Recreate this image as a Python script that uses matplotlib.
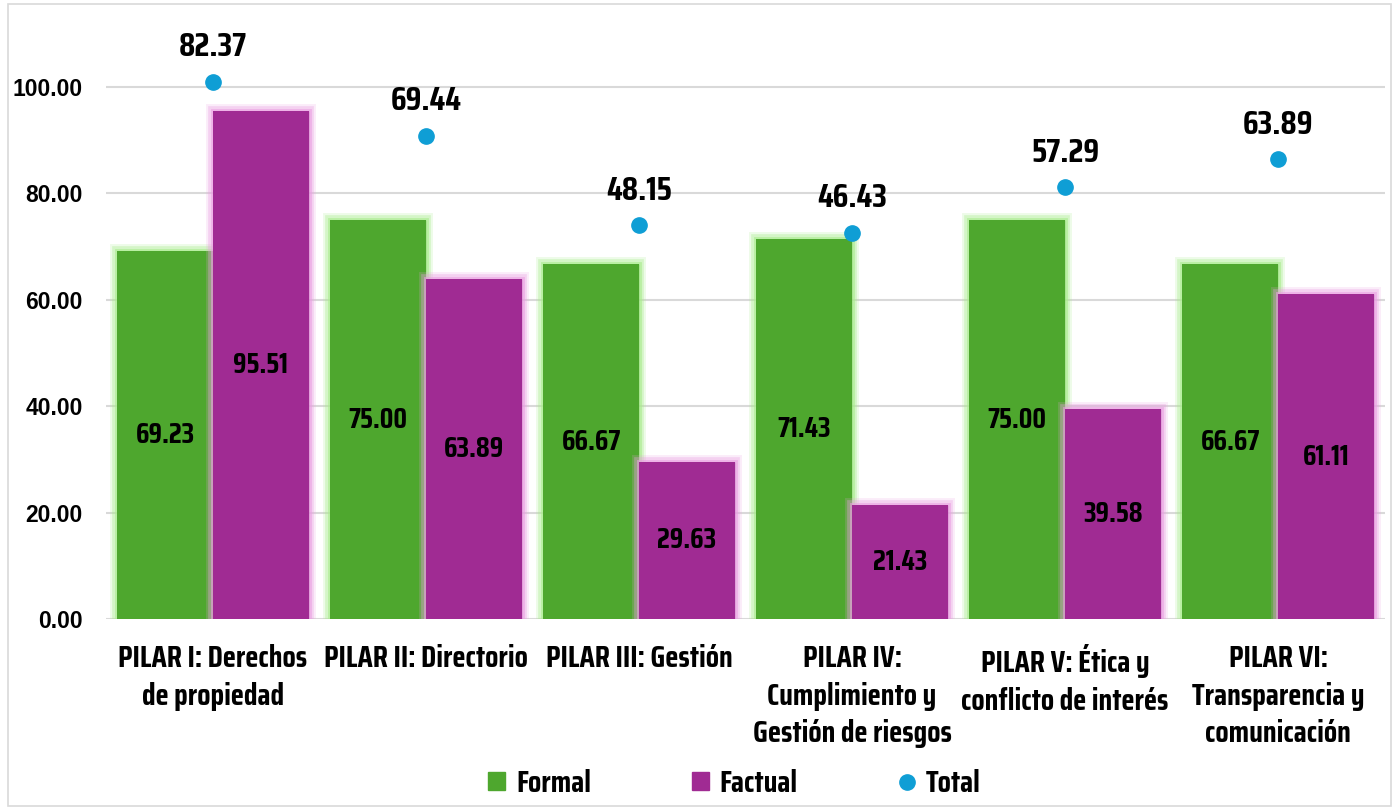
import matplotlib
matplotlib.use("Agg")
import matplotlib.pyplot as plt
import matplotlib.patheffects as pe
from matplotlib import font_manager as fm
from matplotlib.patches import Rectangle, Patch
from matplotlib.lines import Line2D
import numpy as np

# datos
categorias = ["PILAR I: Derechos\nde propiedad", "PILAR II: Directorio", "PILAR III: Gestión",
              "PILAR IV:\nCumplimiento y\nGestión de riesgos", "PILAR V: Ética y\nconflicto de interés",
              "PILAR VI:\nTransparencia y\ncomunicación"]
formal = [69.23, 75.00, 66.67, 71.43, 75.00, 66.67]
factual = [95.51, 63.89, 29.63, 21.43, 39.58, 61.11]
total = [82.37, 69.44, 48.15, 46.43, 57.29, 63.89]

VERDE = "#4EA72E"
MORADO = "#A02B93"
AZUL = "#0F9ED5"

# fuente condensada parecida a Agency FB
instaladas = set(f.name for f in fm.fontManager.ttflist)
preferidas = ["Saira Condensed", "Barlow Condensed", "DejaVu Sans"]
fuente = [f for f in preferidas if f in instaladas][:1] + ["DejaVu Sans"]


def brillo(color):
    return [pe.Stroke(linewidth=10, foreground=color, alpha=0.2),
            pe.Stroke(linewidth=7, foreground=color, alpha=0.35),
            pe.Stroke(linewidth=3.5, foreground=color, alpha=0.6),
            pe.Normal()]


fig = plt.figure(figsize=(13.99, 8.1), dpi=100)
ax = fig.add_axes([0.0761, 0.2354, 0.9137, 0.6967])
x = np.arange(len(categorias))
w = 0.45

b1 = ax.bar(x - w / 2, formal, w, color=VERDE, zorder=2)
b2 = ax.bar(x + w / 2, factual, w, color=MORADO, zorder=3)
for r in b1:
    r.set_path_effects(brillo("#a8ec8c"))
for r in b2:
    r.set_path_effects(brillo("#eaa0e2"))

for barras, vals in [(b1, formal), (b2, factual)]:
    for r, v in zip(barras, vals):
        ax.text(r.get_x() + r.get_width() / 2, v / 2, f"{v:.2f}", ha="center", va="center",
                fontsize=20.5, fontweight="bold", family=fuente, zorder=5)

ax.set_xlim(-0.5, len(categorias) - 0.5)
ax.set_ylim(0, 106)
ax.set_yticks([0, 20, 40, 60, 80, 100])
ax.set_yticklabels([f"{t:.2f}" for t in [0, 20, 40, 60, 80, 100]],
                   fontsize=16.5, fontweight="bold", family=["Liberation Sans", "DejaVu Sans"])
ax.set_xticks(x)
ax.set_xticklabels(categorias, fontsize=22, fontweight="bold", family=fuente, linespacing=1.36)
ax.tick_params(axis="y", length=0, pad=17)
ax.tick_params(axis="x", length=0, pad=18)
ax.grid(axis="y", color="#d9d9d9", linewidth=1.5, zorder=0)
ax.set_axisbelow(True)
for s in ax.spines.values():
    s.set_visible(False)

# total en eje secundario
ax2 = ax.twinx()
ax2.set_ylim(-45.6, 88.7)
ax2.plot(x, total, "o", color=AZUL, markersize=11, linestyle="none", zorder=6)
for xi, v in zip(x, total):
    ax2.annotate(f"{v:.2f}", (xi, v), xytext=(0, 14), textcoords="offset points",
                 ha="center", va="bottom", fontsize=24, fontweight="bold", family=fuente)
ax2.set_yticks([])
for s in ax2.spines.values():
    s.set_visible(False)

manijas = [Patch(color=VERDE), Patch(color=MORADO),
           Line2D([], [], marker="o", color=AZUL, linestyle="none", markersize=11)]
fig.legend(manijas, ["Formal", "Factual", "Total"], loc="center", bbox_to_anchor=(0.525, 0.033),
           ncol=3, frameon=False, prop={"family": fuente, "weight": "bold", "size": 22},
           columnspacing=3.3, handlelength=0.55, handleheight=0.55, handletextpad=0.35)

fig.patches.append(Rectangle((0.006, 0.005), 0.988, 0.99, transform=fig.transFigure,
                             fill=False, edgecolor="#d9d9d9", linewidth=1.2))

fig.savefig("out.png", dpi=100)
